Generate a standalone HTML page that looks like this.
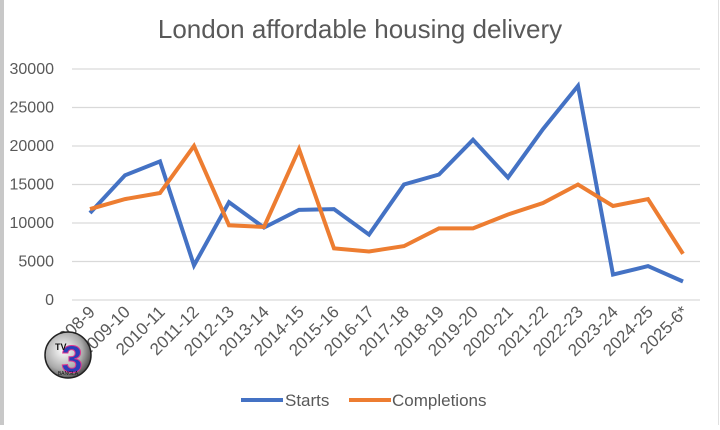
<!DOCTYPE html>
<html><head><meta charset="utf-8"><style>
html,body{margin:0;padding:0;background:#fff;}
svg text{font-family:"Liberation Sans",sans-serif;fill:#595959;}
</style></head><body>
<svg width="720" height="425" viewBox="0 0 720 425" xmlns="http://www.w3.org/2000/svg">
<rect x="0" y="0" width="720" height="425" fill="#fff"/>
<rect x="0" y="0" width="4" height="425" fill="#c8c8c8"/>
<line x1="718.5" y1="0" x2="718.5" y2="425" stroke="#e0e0e0" stroke-width="1"/>
<text x="360" y="38" font-size="26" text-anchor="middle">London affordable housing delivery</text>
<g stroke="#d9d9d9" stroke-width="1.3">
<line x1="72" y1="69" x2="700" y2="69"/>
<line x1="72" y1="107.5" x2="700" y2="107.5"/>
<line x1="72" y1="146" x2="700" y2="146"/>
<line x1="72" y1="184.5" x2="700" y2="184.5"/>
<line x1="72" y1="223" x2="700" y2="223"/>
<line x1="72" y1="261.5" x2="700" y2="261.5"/>
<line x1="72" y1="300" x2="700" y2="300"/>
</g>
<g font-size="16" text-anchor="end">
<text x="54" y="74">30000</text>
<text x="54" y="112.5">25000</text>
<text x="54" y="151">20000</text>
<text x="54" y="189.5">15000</text>
<text x="54" y="228">10000</text>
<text x="54" y="266.5">5000</text>
<text x="54" y="305">0</text>
</g>
<g font-size="17" text-anchor="end">
<text transform="translate(96,313) rotate(-45)">2008-9</text>
<text transform="translate(131,313) rotate(-45)">2009-10</text>
<text transform="translate(166,313) rotate(-45)">2010-11</text>
<text transform="translate(200,313) rotate(-45)">2011-12</text>
<text transform="translate(235,313) rotate(-45)">2012-13</text>
<text transform="translate(270,313) rotate(-45)">2013-14</text>
<text transform="translate(305,313) rotate(-45)">2014-15</text>
<text transform="translate(340,313) rotate(-45)">2015-16</text>
<text transform="translate(375,313) rotate(-45)">2016-17</text>
<text transform="translate(410,313) rotate(-45)">2017-18</text>
<text transform="translate(445,313) rotate(-45)">2018-19</text>
<text transform="translate(479,313) rotate(-45)">2019-20</text>
<text transform="translate(514,313) rotate(-45)">2020-21</text>
<text transform="translate(549,313) rotate(-45)">2021-22</text>
<text transform="translate(584,313) rotate(-45)">2022-23</text>
<text transform="translate(619,313) rotate(-45)">2023-24</text>
<text transform="translate(654,313) rotate(-45)">2024-25</text>
<text transform="translate(689,313) rotate(-45)">2025-6*</text>
</g>
<polyline fill="none" stroke="#4472c4" stroke-width="4" points="90,213 125,175.3 160,161.4 194,265.4 229,202.2 264,227.6 299,209.9 334,209.1 369,234.6 404,184.5 439,174.5 473,139.8 508,177.6 543,129.1 578,85.9 613,274.6 648,266.1 683,281.5"/>
<polyline fill="none" stroke="#ed7d31" stroke-width="4" points="90,209.1 125,199.1 160,193 194,146 229,225.3 264,226.9 299,149.1 334,248.4 369,251.5 404,246.1 439,228.4 473,228.4 508,214.5 543,203 578,184.5 613,206 648,199.1 683,253.8"/>
<line x1="241" y1="400" x2="283" y2="400" stroke="#4472c4" stroke-width="4"/>
<text x="285" y="406" font-size="17">Starts</text>
<line x1="349" y1="400" x2="391" y2="400" stroke="#ed7d31" stroke-width="4"/>
<text x="392" y="406" font-size="17">Completions</text>
<defs><radialGradient id="g" cx="0.4" cy="0.4" r="0.7"><stop offset="0" stop-color="#fff"/><stop offset="0.6" stop-color="#aaa"/><stop offset="1" stop-color="#333"/></radialGradient></defs>
<circle cx="68" cy="355" r="23" fill="url(#g)" stroke="#222" stroke-width="1.5"/>
<text x="72" y="372" font-size="38" font-weight="bold" text-anchor="middle" style="fill:#2a3fb8" stroke="#e0338f" stroke-width="1">3</text>
<text x="55" y="350" font-size="9" font-weight="bold" style="fill:#111">TV</text>
<text x="68" y="375" font-size="5" text-anchor="middle" style="fill:#111">BANGLA</text>
</svg>
</body></html>
